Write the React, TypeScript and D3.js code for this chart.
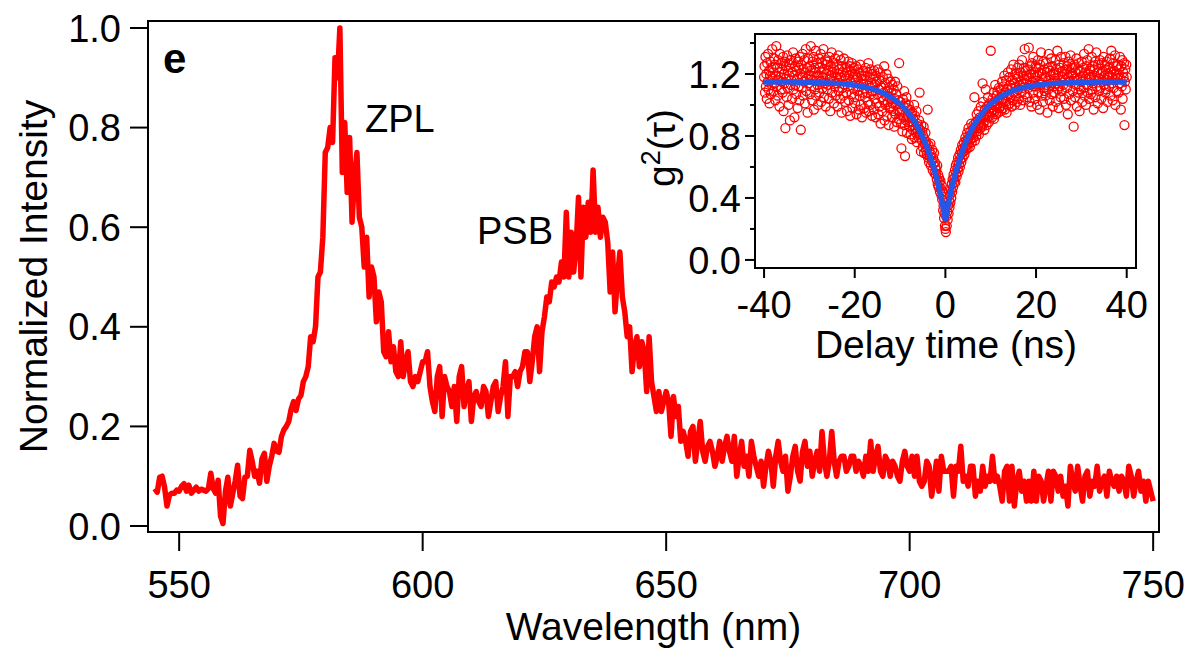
import React from "react";
import * as d3 from "d3";

const W = 1191;
const H = 651;
const FONT = "'Liberation Sans', Arial, Helvetica, sans-serif";

// Photoluminescence spectrum, sampled every 0.5 nm from 545 nm (one row = 5 nm)
const wavelengthStart = 545;
const wavelengthStep = 0.5;
const intensity = [
  0.075, 0.068, 0.098, 0.1, 0.078, 0.04, 0.062, 0.066, 0.066, 0.072,
  0.07, 0.08, 0.085, 0.07, 0.082, 0.066, 0.072, 0.078, 0.07, 0.074,
  0.072, 0.07, 0.075, 0.106, 0.075, 0.066, 0.092, 0.02, 0.005, 0.07,
  0.098, 0.04, 0.065, 0.09, 0.122, 0.06, 0.055, 0.098, 0.1, 0.152,
  0.13, 0.1, 0.11, 0.086, 0.135, 0.146, 0.09, 0.12, 0.14, 0.166,
  0.15, 0.148, 0.18, 0.193, 0.2, 0.21, 0.235, 0.25, 0.232, 0.255,
  0.262, 0.29, 0.3, 0.32, 0.38, 0.37, 0.4, 0.5, 0.51, 0.58,
  0.75, 0.76, 0.8, 0.77, 0.94, 0.9, 1.0, 0.71, 0.81, 0.67,
  0.78, 0.61, 0.7, 0.75, 0.62, 0.6, 0.52, 0.58, 0.46, 0.52,
  0.5, 0.41, 0.47, 0.45, 0.35, 0.34, 0.39, 0.33, 0.36, 0.31,
  0.3, 0.37, 0.3, 0.33, 0.35, 0.29, 0.28, 0.3, 0.29, 0.31,
  0.33, 0.33, 0.35, 0.28, 0.25, 0.23, 0.3, 0.32, 0.22, 0.3,
  0.28, 0.27, 0.24, 0.28, 0.21, 0.3, 0.32, 0.24, 0.27, 0.29,
  0.21, 0.26, 0.27, 0.25, 0.24, 0.28, 0.27, 0.22, 0.25, 0.28,
  0.29, 0.23, 0.26, 0.28, 0.33, 0.22, 0.3, 0.3, 0.31, 0.28,
  0.31, 0.32, 0.35, 0.35, 0.29, 0.33, 0.38, 0.4, 0.31, 0.39,
  0.42, 0.46, 0.45, 0.49, 0.48, 0.5, 0.49, 0.53, 0.5, 0.63,
  0.5, 0.59, 0.51, 0.56, 0.66, 0.5, 0.64, 0.58, 0.65, 0.59,
  0.715, 0.59, 0.64, 0.58, 0.62, 0.61, 0.57, 0.47, 0.55, 0.43,
  0.5, 0.55, 0.46, 0.43, 0.38, 0.4, 0.31, 0.36, 0.38, 0.32,
  0.37, 0.35, 0.27, 0.38, 0.29, 0.26, 0.23, 0.27, 0.23, 0.25,
  0.27, 0.25, 0.18, 0.26, 0.22, 0.24, 0.17, 0.19, 0.17, 0.14,
  0.19, 0.2, 0.13, 0.17, 0.21, 0.15, 0.13, 0.16, 0.17, 0.15,
  0.12, 0.14, 0.17, 0.13, 0.16, 0.18, 0.15, 0.13, 0.18, 0.1,
  0.14, 0.17, 0.12, 0.14, 0.1, 0.17, 0.14, 0.12, 0.1, 0.13,
  0.08, 0.12, 0.15, 0.13, 0.08, 0.14, 0.17, 0.13, 0.11, 0.14,
  0.07, 0.1, 0.14, 0.16, 0.11, 0.09, 0.15, 0.17, 0.12, 0.15,
  0.1, 0.13, 0.15, 0.11, 0.19, 0.13, 0.1, 0.13, 0.19, 0.13,
  0.1, 0.13, 0.14, 0.14, 0.11, 0.12, 0.14, 0.14, 0.11, 0.13,
  0.12, 0.1, 0.14, 0.11, 0.17, 0.11, 0.14, 0.16, 0.11, 0.1,
  0.14, 0.13, 0.1, 0.13, 0.12, 0.1, 0.09, 0.13, 0.15, 0.12,
  0.11, 0.14, 0.1, 0.14, 0.09, 0.08, 0.09, 0.13, 0.12, 0.06,
  0.09, 0.13, 0.07, 0.14, 0.11, 0.11, 0.11, 0.12, 0.06, 0.12,
  0.11, 0.16, 0.09, 0.1, 0.08, 0.12, 0.12, 0.06, 0.09, 0.07,
  0.12, 0.08, 0.1, 0.09, 0.14, 0.09, 0.1, 0.08, 0.05, 0.11,
  0.12, 0.05, 0.12, 0.04, 0.09, 0.11, 0.07, 0.09, 0.05, 0.09,
  0.05, 0.11, 0.05, 0.1, 0.09, 0.05, 0.08, 0.11, 0.05, 0.11,
  0.1, 0.07, 0.1, 0.06, 0.08, 0.04, 0.12, 0.09, 0.07, 0.12,
  0.08, 0.05, 0.1, 0.11, 0.06, 0.09, 0.08, 0.12, 0.07, 0.09,
  0.1, 0.06, 0.11, 0.09, 0.08, 0.1, 0.07, 0.1, 0.09, 0.06,
  0.12, 0.1, 0.06, 0.09, 0.11, 0.07, 0.09, 0.05, 0.09, 0.07,
  0.05,
];

const wavelengthTicks = [550, 600, 650, 700, 750];
const intensityTicks = [0, 0.2, 0.4, 0.6, 0.8, 1.0];

// Second-order correlation g2(tau), in hundredths. Each row starts at
// delayRowStart + 2 ns * row and holds samples every 0.1 ns.
const delayRowStart = -40;
const delayRowSpan = 2;
const delayStep = 0.1;
const g2Rows = [
  [118, 125, 108, 131, 112, 120, 104, 127, 115, 133, 110, 122, 101, 119, 128, 107, 124, 113, 136, 117],
  [121, 109, 130, 114, 126, 103, 119, 138, 112, 124, 106, 129, 116, 121, 99, 133, 118, 110, 127, 115],
  [123, 108, 131, 96, 120, 114, 128, 85, 117, 125, 105, 132, 111, 122, 100, 126, 119, 90, 129, 113],
  [116, 127, 104, 121, 134, 110, 119, 92, 125, 113, 130, 107, 122, 117, 98, 128, 112, 124, 103, 131],
  [120, 84, 126, 111, 118, 133, 106, 123, 115, 129, 101, 121, 136, 109, 117, 124, 95, 130, 114, 119],
  [125, 107, 122, 138, 112, 119, 103, 128, 116, 131, 97, 124, 110, 121, 135, 106, 118, 127, 113, 100],
  [119, 130, 108, 124, 115, 133, 102, 121, 127, 111, 118, 136, 105, 123, 114, 129, 99, 120, 126, 110],
  [128, 113, 122, 104, 131, 117, 96, 125, 119, 134, 108, 121, 115, 127, 101, 123, 112, 130, 106, 118],
  [114, 126, 99, 120, 132, 109, 123, 116, 104, 129, 118, 95, 125, 111, 121, 106, 130, 113, 119, 102],
  [117, 108, 124, 96, 121, 112, 128, 103, 119, 125, 93, 115, 122, 107, 127, 98, 118, 111, 124, 105],
  [120, 101, 116, 125, 94, 118, 109, 123, 112, 97, 121, 106, 126, 100, 114, 119, 92, 117, 108, 122],
  [113, 98, 119, 105, 124, 95, 116, 108, 121, 102, 127, 96, 111, 118, 100, 123, 107, 114, 93, 120],
  [109, 117, 97, 122, 104, 113, 92, 119, 101, 115, 107, 123, 94, 110, 116, 99, 121, 88, 112, 105],
  [111, 96, 118, 103, 108, 125, 90, 114, 100, 106, 120, 93, 109, 102, 117, 87, 111, 98, 104, 115],
  [99, 108, 92, 113, 101, 96, 110, 86, 104, 115, 94, 100, 107, 89, 112, 97, 103, 91, 127, 96],
  [95, 102, 88, 72, 97, 83, 104, 92, 99, 109, 87, 67, 101, 90, 105, 82, 98, 93, 89, 100],
  [92, 86, 97, 81, 94, 89, 78, 95, 84, 91, 87, 100, 79, 93, 85, 82, 96, 76, 88, 83],
  [86, 79, 90, 108, 84, 81, 70, 87, 77, 83, 73, 80, 86, 69, 78, 75, 82, 71, 76, 68],
  [72, 97, 66, 74, 63, 70, 67, 75, 61, 68, 64, 71, 58, 66, 62, 69, 56, 63, 60, 55],
  [58, 52, 61, 49, 55, 47, 53, 50, 44, 51, 46, 42, 48, 39, 44, 32, 35, 27, 30, 22],
  [20, 18, 28, 22, 31, 26, 35, 30, 38, 34, 42, 37, 45, 40, 49, 44, 52, 47, 55, 50],
  [53, 58, 50, 61, 56, 54, 63, 59, 66, 57, 62, 68, 60, 65, 71, 63, 69, 74, 66, 72],
  [70, 76, 68, 73, 79, 71, 77, 74, 82, 72, 78, 85, 75, 80, 73, 83, 78, 88, 76, 81],
  [84, 79, 87, 82, 105, 77, 86, 89, 80, 94, 85, 83, 90, 96, 81, 88, 92, 85, 99, 87],
  [91, 86, 114, 102, 88, 93, 84, 97, 90, 110, 94, 87, 99, 92, 105, 96, 89, 101, 93, 98],
  [135, 95, 100, 92, 104, 97, 108, 91, 102, 96, 113, 99, 94, 106, 100, 109, 95, 103, 111, 98],
  [104, 99, 110, 96, 107, 115, 101, 98, 112, 104, 119, 97, 108, 102, 116, 95, 110, 106, 121, 100],
  [107, 118, 101, 113, 105, 123, 99, 111, 116, 103, 126, 108, 114, 100, 120, 106, 112, 117, 102, 124],
  [110, 118, 104, 126, 113, 100, 121, 115, 108, 129, 111, 119, 103, 124, 117, 136, 107, 122, 114, 119],
  [116, 105, 123, 111, 137, 118, 102, 125, 113, 120, 99, 127, 115, 108, 131, 112, 121, 104, 118, 125],
  [112, 124, 100, 119, 129, 108, 121, 115, 97, 126, 113, 134, 106, 120, 117, 102, 128, 111, 123, 109],
  [118, 106, 127, 113, 121, 95, 124, 110, 133, 116, 103, 122, 119, 130, 107, 114, 125, 99, 120, 112],
  [121, 108, 117, 129, 102, 123, 114, 135, 110, 119, 98, 126, 112, 124, 105, 131, 116, 109, 122, 118],
  [113, 127, 104, 120, 116, 131, 100, 123, 111, 125, 94, 118, 128, 107, 121, 115, 132, 103, 119, 124],
  [120, 109, 124, 86, 117, 126, 105, 121, 113, 130, 99, 116, 123, 108, 127, 112, 96, 122, 118, 110],
  [115, 128, 102, 119, 124, 111, 133, 106, 121, 117, 100, 125, 113, 129, 108, 120, 136, 104, 118, 123],
  [122, 107, 118, 131, 110, 125, 114, 97, 123, 119, 128, 105, 116, 134, 112, 121, 101, 126, 117, 109],
  [117, 129, 111, 120, 104, 127, 115, 122, 98, 131, 113, 119, 126, 108, 123, 110, 128, 116, 102, 120],
  [124, 112, 119, 130, 106, 121, 135, 114, 118, 103, 127, 111, 122, 116, 132, 100, 120, 125, 109, 117],
  [119, 126, 108, 123, 114, 131, 117, 97, 125, 112, 129, 104, 121, 118, 127, 87, 115, 123, 110, 126, 118],
];

// Antibunching fit curve
const fitDelay = [
  -40, -35, -30, -25, -20, -17, -14, -12, -10, -8, -7, -6, -5, -4, -3, -2, -1.5, -1, -0.5,
  0, 0.5, 1, 1.5, 2, 3, 4, 5, 6, 7, 8, 10, 12, 14, 17, 20, 25, 30, 35, 40,
];
const fitG2 = [
  1.149, 1.148, 1.146, 1.141, 1.127, 1.11, 1.081, 1.05, 1.006, 0.943, 0.901, 0.852, 0.793, 0.722, 0.636, 0.535, 0.476, 0.411, 0.342,
  0.264, 0.342, 0.411, 0.476, 0.535, 0.636, 0.722, 0.793, 0.852, 0.901, 0.943, 1.006, 1.05, 1.081, 1.11, 1.127, 1.141, 1.146, 1.148, 1.149,
];

const delayTicks = [-40, -20, 0, 20, 40];
const g2Ticks = [0, 0.4, 0.8, 1.2];
const g2MinorTicks = [0.2, 0.6, 1.0, 1.4];

const RED = "#ff0000";
const BLUE = "#2456e8";

export default function App() {
  // main panel frame
  const m = { left: 148, top: 21, right: 1159, bottom: 532 };
  const x = d3.scaleLinear().domain([543.6, 751.2]).range([m.left, m.right]);
  const y = d3.scaleLinear().domain([-0.012, 1.014]).range([m.bottom, m.top]);

  const spectrum: [number, number][] = intensity.map((v, i) => [
    wavelengthStart + i * wavelengthStep,
    v,
  ]);
  const spectrumPath =
    d3
      .line<[number, number]>()
      .x((d) => x(d[0]))
      .y((d) => y(d[1]))(spectrum) || "";

  // inset frame
  const n = { left: 755, top: 34, right: 1136, bottom: 268 };
  const ix = d3.scaleLinear().domain([-42, 42.05]).range([n.left, n.right]);
  const iy = d3.scaleLinear().domain([-0.052, 1.458]).range([n.bottom, n.top]);

  const g2Points: [number, number][] = [];
  g2Rows.forEach((row, r) => {
    row.forEach((v, j) => {
      g2Points.push([delayRowStart + r * delayRowSpan + j * delayStep, v / 100]);
    });
  });

  const fitPath =
    d3
      .line<number>()
      .x((_, i) => ix(fitDelay[i]))
      .y((d) => iy(d))
      .curve(d3.curveMonotoneX)(fitG2) || "";

  const tickFont = 38;
  const titleFont = 39;

  return (
    <svg
      width={W}
      height={H}
      viewBox={`0 0 ${W} ${H}`}
      style={{ position: "absolute", left: 0, top: 0, display: "block", background: "#fff" }}
      fontFamily={FONT}
    >
      <rect x={0} y={0} width={W} height={H} fill="#fff" />

      {/* spectrum */}
      <path
        d={spectrumPath}
        fill="none"
        stroke={RED}
        strokeWidth={5.5}
        strokeLinejoin="round"
        strokeLinecap="butt"
      />

      {/* main frame */}
      <rect
        x={m.left}
        y={m.top}
        width={m.right - m.left}
        height={m.bottom - m.top}
        fill="none"
        stroke="#000"
        strokeWidth={2}
      />

      {/* main y axis */}
      {intensityTicks.map((t) => (
        <g key={`yt${t}`}>
          <line x1={m.left - 18} x2={m.left} y1={y(t)} y2={y(t)} stroke="#000" strokeWidth={2} />
          <text
            x={121}
            y={y(t)}
            dy="0.36em"
            textAnchor="end"
            fontSize={tickFont}
            fill="#000"
          >
            {d3.format(".1f")(t)}
          </text>
        </g>
      ))}

      {/* main x axis */}
      {wavelengthTicks.map((t) => (
        <g key={`xt${t}`}>
          <line x1={x(t)} x2={x(t)} y1={m.bottom} y2={m.bottom + 19} stroke="#000" strokeWidth={2} />
          <text x={x(t)} y={598} textAnchor="middle" fontSize={tickFont} fill="#000">
            {t}
          </text>
        </g>
      ))}

      <text x={(m.left + m.right) / 2} y={640} textAnchor="middle" fontSize={titleFont} fill="#000">
        Wavelength (nm)
      </text>
      <text
        transform={`translate(47, ${(m.top + m.bottom) / 2}) rotate(-90)`}
        textAnchor="middle"
        fontSize={titleFont}
        fill="#000"
      >
        Normalized Intensity
      </text>

      <text x={163} y={73} fontSize={42} fontWeight="bold" fill="#000">
        e
      </text>
      <text x={365} y={132} fontSize={38} fill="#000">
        ZPL
      </text>
      <text x={477} y={244} fontSize={38} fill="#000">
        PSB
      </text>

      {/* inset: g2 */}
      <rect
        x={n.left}
        y={n.top}
        width={n.right - n.left}
        height={n.bottom - n.top}
        fill="#fff"
        stroke="none"
      />
      <g>
        {g2Points.map((p, i) => (
          <circle
            key={`c${i}`}
            cx={ix(p[0])}
            cy={iy(p[1])}
            r={4.5}
            fill="none"
            stroke={RED}
            strokeWidth={1.3}
          />
        ))}
      </g>
      <path d={fitPath} fill="none" stroke={BLUE} strokeWidth={5.5} strokeLinejoin="round" />
      <rect
        x={n.left}
        y={n.top}
        width={n.right - n.left}
        height={n.bottom - n.top}
        fill="none"
        stroke="#000"
        strokeWidth={2}
      />

      {g2Ticks.map((t) => (
        <g key={`gt${t}`}>
          <line x1={n.left - 10} x2={n.left} y1={iy(t)} y2={iy(t)} stroke="#000" strokeWidth={2} />
          <text x={741} y={iy(t)} dy="0.36em" textAnchor="end" fontSize={tickFont} fill="#000">
            {d3.format(".1f")(t)}
          </text>
        </g>
      ))}
      {g2MinorTicks.map((t) => (
        <line
          key={`gm${t}`}
          x1={n.left - 5}
          x2={n.left}
          y1={iy(t)}
          y2={iy(t)}
          stroke="#000"
          strokeWidth={2}
        />
      ))}
      {delayTicks.map((t) => (
        <g key={`dt${t}`}>
          <line x1={ix(t)} x2={ix(t)} y1={n.bottom} y2={n.bottom + 10} stroke="#000" strokeWidth={2} />
          <text x={ix(t)} y={318} textAnchor="middle" fontSize={tickFont} fill="#000">
            {t}
          </text>
        </g>
      ))}
      <text x={946} y={358} textAnchor="middle" fontSize={titleFont} fill="#000">
        Delay time (ns)
      </text>
      <text
        transform={`translate(675, 148) rotate(-90)`}
        textAnchor="middle"
        fontSize={titleFont}
        fill="#000"
      >
        <tspan>g</tspan>
        <tspan dy={-15} fontSize={27}>
          2
        </tspan>
        <tspan dy={15}>(τ)</tspan>
      </text>
    </svg>
  );
}
